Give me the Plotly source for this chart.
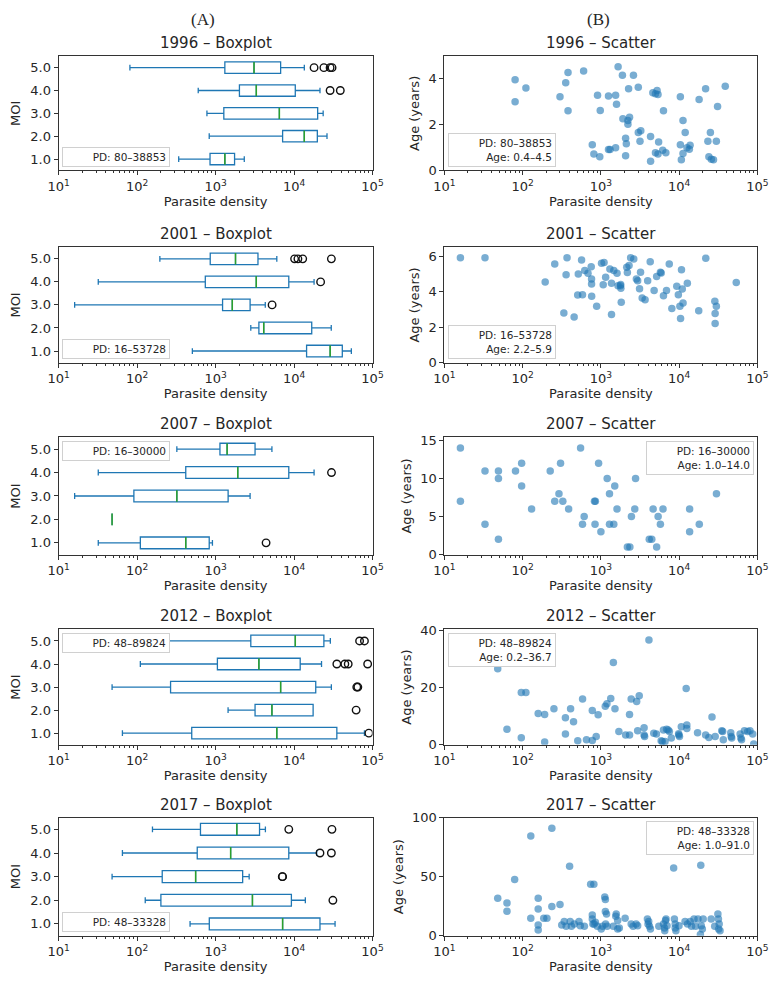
import plotly.graph_objects as go

# ---------------- data ----------------
years = ["1996", "2001", "2007", "2012", "2017"]
moi = [1, 2, 3, 4, 5]
moi_ticktext = ["1.0", "2.0", "3.0", "4.0", "5.0"]
x_tickvals = [10, 100, 1000, 10000, 100000]
x_ticktext = ["10<sup>1</sup>", "10<sup>2</sup>", "10<sup>3</sup>", "10<sup>4</sup>", "10<sup>5</sup>"]

# box statistics per MOI 1..5 (parasite density)
low_1996 = [339, 830, 776, 601, 81]
q1_1996 = [850, 7150, 1274, 2014, 1313]
med_1996 = [1313, 13500, 6500, 3304, 3090]
q3_1996 = [1746, 19800, 20000, 10370, 6745]
high_1996 = [2322, 26300, 23500, 21400, 13520]
out_pd_1996 = [28800, 38853, 18000, 24000, 28800, 30500]
out_moi_1996 = [4, 4, 5, 5, 5, 5]

low_2001 = [506, 2810, 16, 32, 195]
q1_2001 = [14450, 3565, 1228, 740, 855]
med_2001 = [28850, 4110, 1633, 3300, 1795]
q3_2001 = [41200, 16800, 2755, 8570, 3470]
high_2001 = [53728, 29800, 4300, 18000, 6030]
out_pd_2001 = [5250, 21800, 10160, 11200, 12900, 29900]
out_moi_2001 = [3, 4, 5, 5, 5, 5]

low_2007 = [32, 48, 16, 32, 321]
q1_2007 = [110, 48, 91, 417, 1137]
med_2007 = [417, 48, 321, 1918, 1403]
q3_2007 = [830, 48, 1445, 8570, 3186]
high_2007 = [912, 48, 2755, 18000, 5225]
out_pd_2007 = [4400, 30000]
out_moi_2007 = [1, 4]

low_2012 = [65, 1443, 48, 110, 150]
q1_2012 = [497, 3186, 267, 1055, 2811]
med_2012 = [6030, 5225, 6745, 3565, 10370]
q3_2012 = [35100, 17500, 18900, 11980, 24000]
high_2012 = [78900, 17500, 29900, 22400, 29000]
out_pd_2012 = [89824, 61800, 63000, 65000, 35100, 44400, 49000, 86700, 68400, 78900]
out_moi_2012 = [1, 2, 3, 3, 4, 4, 4, 4, 5, 5]

low_2017 = [473, 127, 48, 65, 157]
q1_2017 = [832, 201, 209, 584, 642]
med_2017 = [7150, 2950, 557, 1556, 1866]
q3_2017 = [21400, 9250, 2214, 8570, 3633]
high_2017 = [33328, 13930, 2680, 19450, 4315]
out_pd_2017 = [31250, 7080, 7150, 21400, 29900, 8570, 30400]
out_moi_2017 = [2, 3, 3, 4, 4, 5, 5]

# scatter: parasite density vs age
pd_1996 = [80, 80, 110, 300, 355, 380, 380, 601, 776, 813, 906, 968, 981, 1250, 1250, 1310,
           1542, 1585, 1542, 1660, 1884, 1910, 2070, 2070, 2113, 2214, 2214, 2260, 2323, 2606,
           3006, 3006, 3236, 3160, 4315, 4315, 4613, 4980, 5225, 5370, 5470, 4980, 5370, 6310,
           6170, 6760, 10370, 10370, 10670, 11200, 11200, 11950, 12600, 13500, 13800, 18000,
           21800, 23300, 24000, 25100, 25800, 27500, 29900, 31000, 38853]
age_1996 = [3.93, 2.98, 3.57, 3.2, 3.8, 4.25, 2.59, 4.31, 1.12, 0.71, 3.26, 0.6, 2.6, 3.23, 0.91, 0.91,
            3.26, 2.87, 0.98, 4.5, 4.13, 2.24, 0.64, 1.4, 1.16, 2.17, 2.0, 3.54, 2.31, 4.13,
            3.61, 1.65, 1.72, 1.27, 1.47, 0.4, 3.37, 3.33, 3.47, 3.29, 1.23, 0.77, 0.71, 2.59,
            0.88, 0.77, 3.2, 1.12, 0.46, 2.17, 0.74, 1.65, 0.99, 0.92, 1.09, 3.08,
            3.54, 1.27, 0.6, 1.65, 0.49, 0.46, 1.27, 2.77, 3.65]

pd_2001 = [16, 33, 194, 257, 336, 359, 369, 455, 505, 514, 566, 582, 622, 684, 752, 759, 760, 762,
           883, 1019, 1097, 1070, 1150, 1303, 1367, 1367, 1462, 1607, 1655, 1780, 1800, 1790, 1820,
           2140, 2180, 2290, 2400, 2630, 2842, 2950, 3213, 3120, 3370, 3670, 3960, 4270, 4790,
           5160, 5760, 5900, 6310, 6890, 7480, 8070, 9330, 9770, 10230, 10430, 10720, 10970,
           11220, 12740, 17800, 21900, 28600, 29900, 28850, 28850, 53728]
age_2001 = [5.9, 5.9, 4.53, 5.55, 2.79, 4.94, 5.9, 2.57, 3.8, 4.99, 5.78, 3.82, 5.18, 5.03, 5.4, 4.7, 4.43, 3.73,
            3.17, 5.59, 5.63, 4.38, 4.81, 5.27, 4.47, 2.7, 5.18, 5.03, 4.32, 4.32, 4.19, 4.4, 3.39,
            5.37, 5.07, 5.46, 5.9, 5.83, 4.71, 4.6, 5.09, 4.16, 3.63, 3.54, 4.6, 5.68, 4.06,
            4.84, 5.09, 5.05, 3.76, 4.06, 5.55, 3.04, 4.29, 3.82, 3.17, 2.48, 5.22, 4.14,
            3.35, 4.47, 2.92, 5.87, 3.45, 3.17, 2.76, 2.2, 4.51]

pd_2007 = [16, 16, 33, 33, 49, 49, 49, 81, 97, 97, 130, 225, 257, 291, 305, 326, 387, 550, 582, 611,
           828, 850, 841, 934, 1000, 1203, 1288, 1288, 1462, 1503, 1607, 2180, 2345, 2455, 2710,
           2775, 4150, 4470, 4650, 5160, 5390, 5760, 6220, 9330, 13620, 13620, 18100, 30000]
age_2007 = [14, 7, 11, 4, 11, 10, 2, 11, 12, 9, 6, 11, 7, 8, 12, 7, 6, 14, 4, 5,
            7, 7, 4, 12, 3, 10, 8, 4, 4, 9, 6, 1, 1, 5, 6,
            10, 2, 2, 6, 1, 5, 4, 6, 11, 6, 3, 4, 8]

pd_2012 = [48, 63, 96, 110, 96, 158, 191, 191, 251, 352, 352, 410, 447, 506, 583, 654, 776, 776, 871,
           922, 1137, 1194, 1337, 1443, 1513, 1698, 2070, 2323, 2323, 2440, 2865, 3090, 2950, 3565,
           3565, 3620, 4110, 4740, 5130, 5890, 6100, 6300, 6610, 6920, 7240, 7500, 7950, 9930,
           10100, 9850, 10660, 12300, 12550, 12550, 17200, 21800, 24000, 26300, 28900, 35100,
           36000, 36700, 45700, 46300, 47000, 60200, 61500, 62800, 68400, 75200, 80400, 87100, 89824]
age_2012 = [26.6, 5.4, 18.3, 18.3, 2.4, 10.9, 10.6, 0.9, 12.6, 9.4, 3.7, 12.6, 8.0, 1.4, 16.0, 1.7, 12.0, 1.5, 2.9,
            10.5, 13.5, 14.3, 16.2, 28.8, 12.6, 4.6, 3.4, 3.4, 10.6, 16.0, 15.1, 17.1, 4.9, 5.9,
            3.4, 2.9, 36.7, 4.0, 3.7, 1.4, 1.1, 5.1, 1.1, 5.4, 5.1, 4.6, 2.3, 3.4,
            2.9, 3.8, 6.3, 19.7, 6.9, 5.7, 4.2, 3.4, 2.5, 9.7, 2.9, 4.9,
            4.6, 1.7, 4.2, 2.9, 2.3, 3.7, 2.3, 1.7, 4.9, 4.6, 4.9, 3.7, 0.2]

pd_2017 = [48, 63, 63, 79, 127, 127, 158, 158, 158, 158, 186, 204, 236, 236, 300, 398,
           316, 340, 360, 405, 420, 457, 525, 545, 615, 776, 776, 740, 813, 790, 820, 850, 900,
           1010, 1050, 1120, 1140, 1140, 1180, 1150, 1200, 1440, 1550, 1570, 1640, 1640, 1720,
           2040, 2440, 2580, 2820, 2950, 3930, 4000, 4080, 4180, 4300, 5500, 6310, 6500, 6550,
           6700, 6800, 7000, 8510, 8700, 8900, 8900, 9100, 9960, 11900, 12800, 13850, 14400,
           15500, 16200, 17400, 18900, 18700, 19200, 19800, 20300, 25700, 28500, 31300, 31800,
           32000, 32500, 33328]
age_2017 = [31.8, 27.8, 20.7, 47.7, 84.4, 14.8, 22.7, 31.8, 9.1, 4.8, 14.8, 14.8, 91.0, 24.7, 26.4, 58.8,
            9.0, 12.0, 8.0, 12.0, 8.0, 10.0, 12.0, 8.5, 8.0, 17.6, 14.2, 43.5, 43.5, 10.0, 10.0, 11.4, 8.0,
            5.7, 8.0, 32.7, 30.7, 20.5, 18.5, 10.0, 8.0, 8.0, 16.5, 18.5, 12.8, 5.7, 6.5,
            14.8, 10.0, 8.0, 10.0, 8.5, 14.2, 10.0, 12.0, 8.0, 5.7, 8.0, 10.0, 6.5, 4.3,
            12.8, 14.2, 8.5, 57.4, 14.2, 10.0, 6.5, 4.3, 8.5, 12.0, 10.0, 12.0, 8.0,
            14.2, 8.0, 14.2, 59.7, 1.0, 8.5, 5.7, 14.2, 14.2, 8.0, 18.5, 14.2,
            5.7, 10.0, 4.3]

box_legend = ["PD: 80–38853", "PD: 16–53728", "PD: 16–30000", "PD: 48–89824", "PD: 48–33328"]
box_legend_pos = ["lower left", "lower left", "upper left", "upper left", "lower left"]
sc_legend = ["PD: 80–38853<br>Age: 0.4–4.5", "PD: 16–53728<br>Age: 2.2–5.9",
             "PD: 16–30000<br>Age: 1.0–14.0", "PD: 48–89824<br>Age: 0.2–36.7",
             "PD: 48–33328<br>Age: 1.0–91.0"]
sc_legend_pos = ["lower left", "lower left", "upper right", "upper left", "upper right"]
age_dtick = [2, 2, 5, 20, 50]

box_data = [
    (low_1996, q1_1996, med_1996, q3_1996, high_1996, out_pd_1996, out_moi_1996),
    (low_2001, q1_2001, med_2001, q3_2001, high_2001, out_pd_2001, out_moi_2001),
    (low_2007, q1_2007, med_2007, q3_2007, high_2007, out_pd_2007, out_moi_2007),
    (low_2012, q1_2012, med_2012, q3_2012, high_2012, out_pd_2012, out_moi_2012),
    (low_2017, q1_2017, med_2017, q3_2017, high_2017, out_pd_2017, out_moi_2017),
]
sc_data = [(pd_1996, age_1996), (pd_2001, age_2001), (pd_2007, age_2007),
           (pd_2012, age_2012), (pd_2017, age_2017)]

# ---------------- styling / layout ----------------
W, H = 781, 991
BLUE = "#1f77b4"
GREEN = "#2ca02c"
TXT = "#262626"
FONT = "DejaVu Sans"
BOX_W = 0.5

col_px = [(49, 372), (446, 768)]
row_px = [(50, 166), (244, 361), (437, 556), (632, 749), (823, 943)]

fig = go.Figure()
layout = dict(width=W, height=H, margin=dict(l=0, r=0, t=0, b=0),
              paper_bgcolor="white", plot_bgcolor="white", showlegend=False,
              font=dict(family=FONT, color=TXT, size=12))
annotations = []


def legend_ann(text, pos, xref, yref, w):
    up = pos.startswith("upper")
    left = pos.endswith("left")
    return dict(text=text, xref=xref, yref=yref,
                x=0.012 if left else 0.988, y=0.97 if up else 0.03,
                xanchor="left" if left else "right", yanchor="top" if up else "bottom",
                showarrow=False, align="right", width=w, bgcolor="white",
                bordercolor="#d0d0d0", borderwidth=1, borderpad=3,
                font=dict(size=10.5, color=TXT, family=FONT))


for r, year in enumerate(years):
    for c in range(2):
        n = r * 2 + c + 1
        xs = "" if n == 1 else str(n)
        xa, ya = "x" + xs, "y" + xs
        x0, x1 = col_px[c]
        y0, y1 = row_px[r]
        common = dict(showline=True, mirror=True, linecolor="#333333", linewidth=1,
                      ticks="outside", ticklen=4, tickcolor="#333333", showgrid=False,
                      zeroline=False, tickfont=dict(size=13, color=TXT))
        layout["xaxis" + xs] = dict(common, domain=[x0 / W, x1 / W], anchor=ya, type="log",
                                    range=[1, 5], tickmode="array", tickvals=x_tickvals,
                                    ticktext=x_ticktext,
                                    minor=dict(ticks="outside", ticklen=2, tickcolor="#333333",
                                               dtick="D1", showgrid=False),
                                    title=dict(text="Parasite density", font=dict(size=13),
                                               standoff=3))
        if c == 0:
            low, q1, med, q3, high, opd, omoi = box_data[r]
            fig.add_trace(go.Box(orientation="h", y=moi, q1=q1, median=med, q3=q3,
                                 lowerfence=low, upperfence=high, width=BOX_W,
                                 whiskerwidth=0.5, boxpoints=False,
                                 line=dict(color=BLUE, width=1.3),
                                 fillcolor="rgba(0,0,0,0)", xaxis=xa, yaxis=ya,
                                 hoverinfo="skip"))
            for m, p in zip(med, moi):
                fig.add_trace(go.Scatter(x=[m, m], y=[p - BOX_W / 2, p + BOX_W / 2],
                                         mode="lines", line=dict(color=GREEN, width=1.5),
                                         xaxis=xa, yaxis=ya, hoverinfo="skip"))
            fig.add_trace(go.Scatter(x=opd, y=omoi, mode="markers",
                                     marker=dict(symbol="circle-open", size=7.5, color="#111111",
                                                 line=dict(width=1.4)),
                                     xaxis=xa, yaxis=ya, hoverinfo="skip"))
            layout["yaxis" + xs] = dict(common, domain=[1 - y1 / H, 1 - y0 / H], anchor=xa,
                                        range=[0.5, 5.5], tickmode="array", tickvals=moi,
                                        ticktext=moi_ticktext,
                                        title=dict(text="MOI", font=dict(size=13), standoff=6))
            annotations.append(legend_ann(box_legend[r], box_legend_pos[r],
                                          xa + " domain", ya + " domain", 100))
            title = f"{year} – Boxplot"
        else:
            pdv, agev = sc_data[r]
            fig.add_trace(go.Scatter(x=pdv, y=agev, mode="markers",
                                     marker=dict(size=7.5, color=BLUE, opacity=0.6,
                                                 line=dict(width=0)),
                                     xaxis=xa, yaxis=ya, hoverinfo="skip"))
            layout["yaxis" + xs] = dict(common, domain=[1 - y1 / H, 1 - y0 / H], anchor=xa,
                                        range=[0, max(agev) * 1.1], dtick=age_dtick[r],
                                        title=dict(text="Age (years)", font=dict(size=13),
                                                   standoff=5))
            annotations.append(legend_ann(sc_legend[r], sc_legend_pos[r],
                                          xa + " domain", ya + " domain", 100))
            title = f"{year} – Scatter"
        annotations.append(dict(text=title, xref=xa + " domain", yref=ya + " domain",
                                x=0.5, y=1, xanchor="center", yanchor="bottom", yshift=2,
                                showarrow=False, font=dict(size=15, color=TXT)))

annotations.append(dict(text="(A)", xref="paper", yref="paper", x=198 / W, y=1 - 13 / H,
                        xanchor="center", yanchor="middle", showarrow=False,
                        font=dict(family="Liberation Serif", size=17, color=TXT)))
annotations.append(dict(text="(B)", xref="paper", yref="paper", x=605 / W, y=1 - 13 / H,
                        xanchor="center", yanchor="middle", showarrow=False,
                        font=dict(family="Liberation Serif", size=17, color=TXT)))
layout["annotations"] = annotations
fig.update_layout(**layout)
fig.write_html("out.html")
